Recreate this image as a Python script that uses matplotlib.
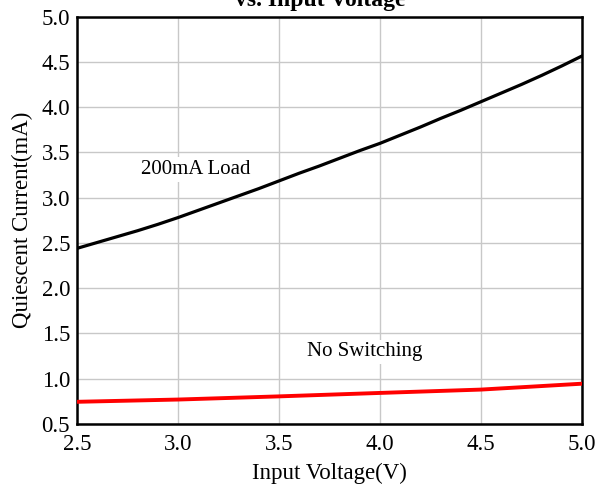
import matplotlib
matplotlib.use('Agg')
import matplotlib.pyplot as plt

# input voltage (V)
vin = [2.5, 2.6, 2.7, 2.8, 2.9, 3.0, 3.1, 3.2, 3.3, 3.4, 3.5, 3.6, 3.7,
       3.8, 3.9, 4.0, 4.1, 4.2, 4.3, 4.4, 4.5, 4.6, 4.7, 4.8, 4.9, 5.0]
# quiescent current with 200mA load (mA)
iq_load = [2.44, 2.505, 2.57, 2.635, 2.705, 2.78, 2.86, 2.94, 3.02, 3.10, 3.185,
           3.27, 3.35, 3.435, 3.52, 3.60, 3.69, 3.78, 3.875, 3.965, 4.06, 4.155,
           4.25, 4.35, 4.455, 4.565]
# no switching
vin_ns = [2.5, 3.0, 3.5, 4.0, 4.5, 5.0]
iq_ns = [0.745, 0.77, 0.805, 0.843, 0.88, 0.945]

xticks = [2.5, 3.0, 3.5, 4.0, 4.5, 5.0]
yticks = [0.5, 1.0, 1.5, 2.0, 2.5, 3.0, 3.5, 4.0, 4.5, 5.0]

plt.rcParams['font.family'] = ['Liberation Serif', 'DejaVu Serif']

fig = plt.figure(figsize=(5.98, 4.87), dpi=100)
ax = fig.add_axes([0.1288, 0.1294, 0.8444, 0.8365])

ax.plot(vin, iq_load, color='black', lw=2.3, zorder=3)
ax.plot(vin_ns, iq_ns, color='#ff0000', lw=2.8, zorder=3)

ax.set_xlim(2.5, 5.0)
ax.set_ylim(0.5, 5.0)
ax.set_xticks(xticks)
ax.set_yticks(yticks)
ax.set_xticklabels([f'{t:.1f}' for t in xticks], fontsize=16.5)
ax.set_yticklabels([f'{t:.1f}' for t in yticks], fontsize=16.5)
ax.tick_params(axis='x', length=0, pad=7.5)
ax.tick_params(axis='y', length=0, pad=5)
ax.grid(True, color='#c8c8c8', lw=1.0, zorder=0)
ax.set_axisbelow(True)
for s in ax.spines.values():
    s.set_linewidth(1.8)
    s.set_color('black')

ax.set_xlabel('Input Voltage(V)', fontsize=16.5, labelpad=5)
ax.set_ylabel('Quiescent Current(mA)', fontsize=16.5, labelpad=6)

ax.text(3.09, 3.31, '200mA Load', fontsize=15, ha='center', va='center',
        bbox=dict(facecolor='white', edgecolor='none', pad=2), zorder=2)
ax.text(3.926, 1.297, 'No Switching', fontsize=15, ha='center', va='center',
        bbox=dict(facecolor='white', edgecolor='none', pad=2), zorder=2)

fig.text(0.535, 1 - 6 / 487, 'vs. Input Voltage', fontsize=17, fontweight='bold',
         ha='center', va='baseline')

fig.savefig('out.png', dpi=100)
